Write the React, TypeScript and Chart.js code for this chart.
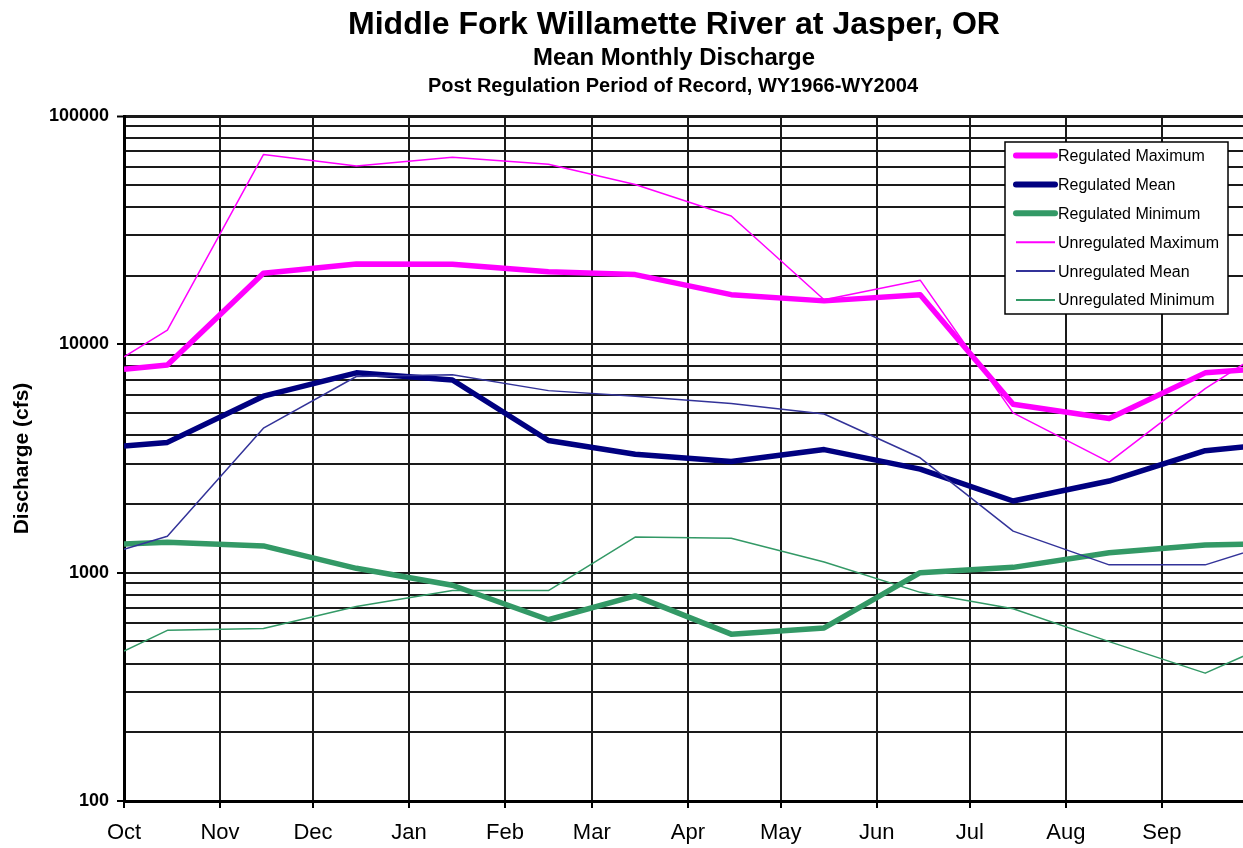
import React, { useEffect, useRef } from 'react';
import { Chart, registerables } from 'chart.js';

Chart.register(...registerables);

const FONT = "'Liberation Sans', Arial, Helvetica, sans-serif";

const titleTexts = [
  'Middle Fork Willamette River at Jasper, OR',
  'Mean Monthly Discharge',
  'Post Regulation Period of Record, WY1966-WY2004',
];
const yAxisTitle = 'Discharge (cfs)';

const monthLabels = ['Oct', 'Nov', 'Dec', 'Jan', 'Feb', 'Mar', 'Apr', 'May', 'Jun', 'Jul', 'Aug', 'Sep'];
// day of water year at which each month starts (Oct 1 = 0)
const monthStartDays = [0, 31, 61, 92, 123, 151, 182, 212, 243, 273, 304, 335];
// x positions of the plotted values: Oct 1, the 15th of every month, then Oct 1 again
const pointDays = [0, 14, 45, 75, 106, 137, 165, 196, 226, 257, 287, 318, 349, 365];

const seriesNames = [
  'Regulated Maximum',
  'Regulated Mean',
  'Regulated Minimum',
  'Unregulated Maximum',
  'Unregulated Mean',
  'Unregulated Minimum',
];

const regulatedMax = [7780, 8120, 20500, 22500, 22400, 20800, 20200, 16500, 15500, 16500, 5470, 4730, 7500, 7780];
const regulatedMean = [3590, 3720, 5930, 7500, 6980, 3790, 3300, 3070, 3460, 2840, 2060, 2520, 3420, 3590];
const regulatedMin = [1334, 1358, 1310, 1045, 881, 622, 791, 538, 573, 1000, 1055, 1222, 1321, 1334];
const unregulatedMax = [8820, 11550, 67800, 60400, 66000, 61500, 50100, 36500, 15670, 19100, 5010, 3050, 6400, 8820];
const unregulatedMean = [1265, 1443, 4295, 7230, 7360, 6270, 5930, 5500, 4955, 3185, 1520, 1082, 1082, 1265];
const unregulatedMin = [453, 559, 569, 711, 835, 835, 1432, 1414, 1114, 820, 695, 499, 363, 453];

const yMin = 100;
const yMax = 100000;
const xMax = 361.2;

const isDecade = (v: number) => {
  const l = Math.log10(v);
  return Math.abs(l - Math.round(l)) < 1e-9;
};

const toPoints = (arr: number[]) => pointDays.map((d, i) => ({ x: d, y: arr[i] }));

const titlePlugin = {
  id: 'customTitles',
  afterDraw(chart: any) {
    const ctx = chart.ctx;
    const specs = [
      { size: 32, cx: 674, base: 34, w: 652 },
      { size: 24, cx: 674, base: 65, w: 282 },
      { size: 20, cx: 673, base: 92, w: 490 },
    ];
    ctx.save();
    ctx.fillStyle = '#000';
    ctx.textBaseline = 'alphabetic';
    ctx.textAlign = 'left';
    titleTexts.forEach((t, i) => {
      const s = specs[i];
      ctx.font = `bold ${s.size}px ${FONT}`;
      const m = ctx.measureText(t).width;
      ctx.save();
      ctx.translate(s.cx, s.base);
      ctx.scale(s.w / m, 1);
      ctx.fillText(t, -m / 2, 0);
      ctx.restore();
    });
    ctx.restore();
  },
};

const legendPlugin = {
  id: 'customLegend',
  afterDraw(chart: any) {
    const ctx = chart.ctx;
    const x0 = 1005, y0 = 142, x1 = 1228, y1 = 314;
    ctx.save();
    ctx.fillStyle = '#fff';
    ctx.fillRect(x0, y0, x1 - x0, y1 - y0);
    ctx.strokeStyle = '#000';
    ctx.lineWidth = 1.5;
    ctx.strokeRect(x0, y0, x1 - x0, y1 - y0);
    ctx.font = `16px ${FONT}`;
    ctx.textBaseline = 'middle';
    ctx.textAlign = 'left';
    chart.data.datasets.forEach((ds: any, i: number) => {
      const y = 155.5 + i * 28.9;
      ctx.beginPath();
      ctx.strokeStyle = ds.borderColor;
      ctx.lineWidth = ds.borderWidth > 3 ? 6 : 2;
      ctx.lineCap = ds.borderWidth > 3 ? 'round' : 'butt';
      ctx.moveTo(1016, y);
      ctx.lineTo(1055, y);
      ctx.stroke();
      ctx.fillStyle = '#000';
      ctx.fillText(ds.label, 1058, y + 1);
    });
    ctx.restore();
  },
};

export default function App() {
  const ref = useRef<HTMLCanvasElement | null>(null);

  useEffect(() => {
    if (!ref.current) return;
    const thick = 5.5;
    const thin = 1.5;
    const gridColor = '#1a1a1a';
    const chart = new Chart(ref.current, {
      type: 'line',
      data: {
        datasets: [
          { label: seriesNames[0], data: toPoints(regulatedMax), borderColor: '#FF00FF', borderWidth: thick, order: 1 },
          { label: seriesNames[1], data: toPoints(regulatedMean), borderColor: '#000080', borderWidth: thick, order: 1 },
          { label: seriesNames[2], data: toPoints(regulatedMin), borderColor: '#339966', borderWidth: thick, order: 1 },
          { label: seriesNames[3], data: toPoints(unregulatedMax), borderColor: '#FF00FF', borderWidth: thin, order: 0 },
          { label: seriesNames[4], data: toPoints(unregulatedMean), borderColor: '#333399', borderWidth: thin, order: 0 },
          { label: seriesNames[5], data: toPoints(unregulatedMin), borderColor: '#339966', borderWidth: thin, order: 0 },
        ] as any,
      },
      options: {
        animation: false,
        responsive: false,
        maintainAspectRatio: false,
        layout: { padding: { top: 116, left: 0, right: 0, bottom: 0 } },
        elements: {
          point: { radius: 0, hoverRadius: 0 },
          line: { tension: 0, borderJoinStyle: 'round', borderCapStyle: 'butt', fill: false },
        },
        plugins: {
          legend: { display: false },
          title: { display: false },
          tooltip: { enabled: false },
        },
        scales: {
          x: {
            type: 'linear',
            min: 0,
            max: xMax,
            afterBuildTicks: (s: any) => {
              s.ticks = monthStartDays.map((v) => ({ value: v }));
            },
            afterFit: (s: any) => {
              s.height = 47;
            },
            ticks: {
              autoSkip: false,
              maxRotation: 0,
              minRotation: 0,
              padding: 12,
              color: '#000',
              font: { family: FONT, size: 22 },
              callback: (_v: any, i: number) => monthLabels[i],
            },
            grid: { color: gridColor, lineWidth: 2, tickLength: 7, tickColor: '#000', tickWidth: 2 },
            border: { display: true, color: '#000', width: 3 },
          },
          y: {
            type: 'logarithmic',
            min: yMin,
            max: yMax,
            afterBuildTicks: (s: any) => {
              const t: any[] = [];
              for (let d = yMin; d < yMax; d *= 10) {
                for (let m = 1; m <= 9; m++) t.push({ value: d * m });
              }
              t.push({ value: yMax });
              s.ticks = t;
            },
            afterFit: (s: any) => {
              s.width = 124;
            },
            ticks: {
              autoSkip: false,
              padding: 8,
              color: '#000',
              font: { family: FONT, size: 18, weight: 'bold' },
              callback: (v: any) => (isDecade(Number(v)) ? String(Number(v)) : ''),
            },
            grid: {
              color: gridColor,
              lineWidth: (c: any) => (c.tick && c.tick.value === yMax ? 3 : 2),
              tickLength: 7,
              tickWidth: 2,
              tickColor: (c: any) => (c.tick && isDecade(c.tick.value) ? '#000' : 'rgba(0,0,0,0)'),
            },
            border: { display: true, color: '#000', width: 3 },
            title: {
              display: true,
              text: yAxisTitle,
              color: '#000',
              font: { family: FONT, size: 21, weight: 'bold' },
              padding: { top: 10, bottom: 0 },
            },
          },
        },
      } as any,
      plugins: [titlePlugin, legendPlugin],
    });
    return () => chart.destroy();
  }, []);

  return (
    <div style={{ position: 'absolute', left: 0, top: 0, width: 1243, height: 848, background: '#fff' }}>
      <canvas ref={ref} width={1243} height={848} style={{ display: 'block' }} />
    </div>
  );
}
